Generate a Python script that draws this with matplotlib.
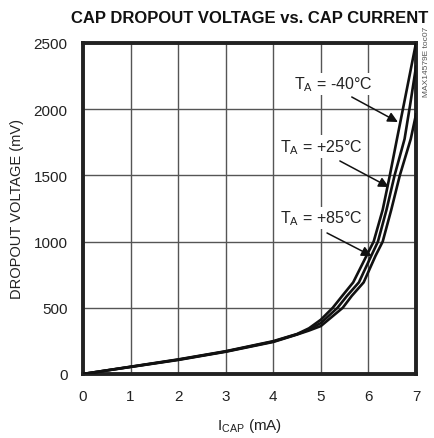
import matplotlib.pyplot as plt

plt.rcParams['font.family'] = ['Liberation Sans', 'DejaVu Sans']
plt.rcParams['mathtext.fontset'] = 'custom'
plt.rcParams['mathtext.rm'] = 'Liberation Sans'

# dados (mA, mV)
i_m40 = [0, 1, 2, 3, 4, 4.5, 4.75, 5.0, 5.25, 5.45, 5.68, 5.96, 6.11, 6.3, 6.45, 6.6, 6.78, 7.0]
v_m40 = [0, 55, 110, 172, 248, 302, 345, 410, 500, 590, 692, 893, 1000, 1240, 1500, 1775, 2100, 2500]

i_25 = [0, 1, 2, 3, 4, 4.5, 4.75, 5.0, 5.35, 5.55, 5.8, 6.06, 6.2, 6.38, 6.55, 6.76, 6.88, 7.0]
v_25 = [0, 54, 108, 170, 245, 300, 335, 385, 500, 590, 692, 893, 1000, 1240, 1500, 1775, 2040, 2320]

i_85 = [0, 1, 2, 3, 4, 4.5, 4.75, 5.0, 5.46, 5.65, 5.9, 6.15, 6.3, 6.48, 6.66, 6.89, 7.0]
v_85 = [0, 53, 106, 168, 242, 298, 328, 362, 500, 590, 692, 893, 1000, 1240, 1500, 1775, 1960]

x_ticks = [0, 1, 2, 3, 4, 5, 6, 7]
y_ticks = [0, 500, 1000, 1500, 2000, 2500]

fig = plt.figure(figsize=(4.34, 4.39), dpi=100)
ax = fig.add_axes([0.1912, 0.1458, 0.7673, 0.754])

ax.plot(i_m40, v_m40, color='#111', lw=1.9, zorder=3)
ax.plot(i_25, v_25, color='#111', lw=1.9, zorder=3)
ax.plot(i_85, v_85, color='#111', lw=1.9, zorder=3)

ax.set_xlim(0, 7)
ax.set_ylim(0, 2500)
ax.set_xticks(x_ticks)
ax.set_yticks(y_ticks)
ax.grid(True, color='#555', lw=1.0)
ax.tick_params(length=0, labelsize=11, pad=11, colors='#222')
for s in ax.spines.values():
    s.set_linewidth(2.8)
    s.set_color('#222')

ax.set_xlabel('I$_{\\mathregular{CAP}}$ (mA)', fontsize=11, color='#222', labelpad=9)
ax.set_ylabel('DROPOUT VOLTAGE (mV)', fontsize=10.5, color='#222', labelpad=7)

fig.text(0.576, 0.958, 'CAP DROPOUT VOLTAGE vs. CAP CURRENT', ha='center', va='center',
         fontsize=12, fontweight='bold', color='#111')

# rótulos e setas
box = dict(facecolor='white', edgecolor='none', pad=1.5)
rotulos = ['T$_{\\mathregular{A}}$ = -40°C', 'T$_{\\mathregular{A}}$ = +25°C', 'T$_{\\mathregular{A}}$ = +85°C']
pos_texto = [(5.27, 2190), (5.0, 1715), (5.0, 1178)]
seta_ini = [(5.65, 2092), (5.4, 1609), (5.13, 1065)]
seta_fim = [(6.62, 1903), (6.43, 1412), (6.07, 891)]
for txt, p, a, b in zip(rotulos, pos_texto, seta_ini, seta_fim):
    ax.text(p[0], p[1], txt, ha='center', va='center', fontsize=11.5, color='#222',
            bbox=box, zorder=4)
    ax.annotate('', xy=b, xytext=a, zorder=5,
                arrowprops=dict(arrowstyle='-|>', color='#111', lw=1.1,
                                mutation_scale=15, shrinkA=0, shrinkB=0))

fig.text(0.983, 0.86, 'MAX14579E toc07', rotation=90, ha='center', va='center',
         fontsize=6, color='#555')

fig.savefig('out.png', dpi=100)
